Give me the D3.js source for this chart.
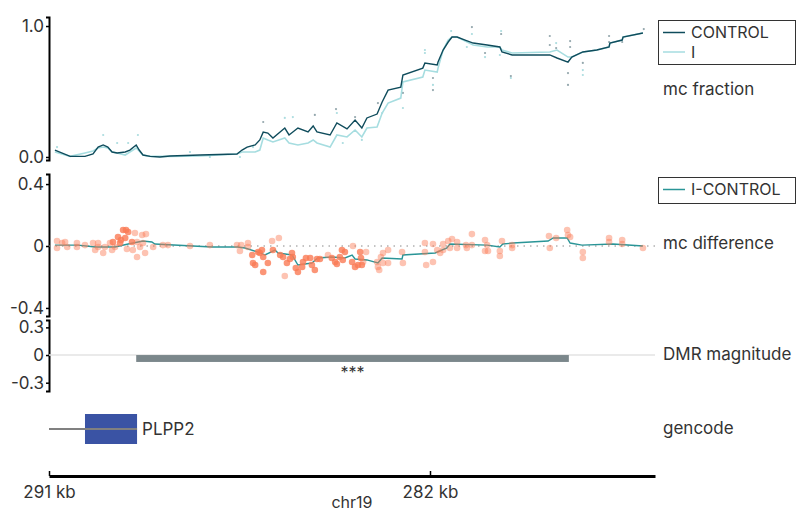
<!DOCTYPE html>
<html><head><meta charset="utf-8">
<script src="https://cdn.jsdelivr.net/npm/d3@7"></script>
<style>
body{margin:0;background:#fff;}
svg text{font-family:Inter,"Noto Sans",sans-serif;fill:#333;}
</style></head>
<body><svg id="c" width="810" height="512"></svg>
<script>
// ---------------- DATA ----------------
// genomic positions in kb (chr19), axis runs 291 kb -> 276.7 kb
const xDomainKb = [291, 276.685];
const xTickKb = [291, 282];
const xTickLabels = ["291 kb", "282 kb"];
const chromName = "chr19";

// mc fraction line vertices
const sitePosKb = [290.86,290.50,290.15,289.96,289.84,289.72,289.61,289.51,289.39,289.20,289.09,288.94,288.87,288.78,288.61,288.38,288.14,287.43,286.56,286.44,286.32,286.13,286.02,285.94,285.83,285.71,285.43,285.33,285.12,284.88,284.76,284.67,284.36,284.20,283.96,283.77,283.61,283.49,283.25,283.13,282.99,282.69,282.64,282.17,282.12,281.83,281.81,281.69,281.57,281.48,281.36,281.17,280.98,280.65,280.35,280.30,280.06,279.17,279.00,278.74,278.65,278.39,278.06,277.77,277.75,277.46,277.44,276.97];
const controlMC = [0.053,0.005,0.005,0.023,0.076,0.092,0.076,0.038,0.031,0.038,0.053,0.092,0.053,0.015,0.005,0.000,0.008,0.015,0.023,0.053,0.076,0.092,0.130,0.190,0.183,0.145,0.221,0.168,0.221,0.191,0.237,0.191,0.168,0.260,0.214,0.282,0.221,0.298,0.328,0.420,0.511,0.534,0.626,0.679,0.718,0.702,0.725,0.817,0.878,0.916,0.916,0.893,0.870,0.855,0.840,0.802,0.779,0.779,0.756,0.725,0.763,0.802,0.817,0.840,0.870,0.893,0.916,0.947];
const iMC = [0.038,0.005,0.031,0.046,0.069,0.076,0.069,0.038,0.031,0.015,0.038,0.069,0.046,0.015,0.005,0.005,0.005,0.008,0.023,0.038,0.038,0.038,0.053,0.145,0.130,0.115,0.145,0.107,0.092,0.107,0.130,0.107,0.076,0.168,0.153,0.206,0.153,0.221,0.229,0.336,0.412,0.450,0.573,0.611,0.664,0.649,0.679,0.817,0.893,0.916,0.916,0.885,0.855,0.840,0.840,0.817,0.794,0.802,0.817,0.763,0.763,0.802,0.817,0.840,0.870,0.893,0.916,0.947];

// individual sample values (small dots)
const samplePosKb = [281.01,281.01,280.32,280.32,280.70,280.70,280.35,280.09,280.09,279.17,279.17,279.02,279.02,278.69,278.69,278.74,278.74,278.39,278.39,278.39,277.77,277.77,277.46,276.95,281.50,281.13,284.22,284.20,283.77,282.12,282.12,281.93,281.93,281.93,282.64,282.64,283.23,283.13,284.06,283.61,285.94,285.43,285.24,284.72,289.72,288.90,289.39,289.13,290.81,287.67,287.20,286.49,286.18];
const sampleVal = [0.992,0.939,0.962,0.939,0.794,0.763,0.779,0.618,0.603,0.924,0.855,0.870,0.832,0.885,0.840,0.641,0.550,0.718,0.664,0.626,0.924,0.878,0.878,0.977,0.962,0.840,0.366,0.336,0.305,0.817,0.794,0.603,0.550,0.511,0.489,0.374,0.412,0.336,0.107,0.130,0.267,0.298,0.305,0.321,0.168,0.168,0.107,0.107,0.076,0.038,0.000,0.000,0.076];
const sampleGroup = ["C","I","I","C","C","I","I","C","I","C","C","I","C","C","C","C","C","C","I","I","C","C","C","C","I","I","C","I","C","I","I","C","I","C","C","I","C","I","I","I","C","I","I","C","I","I","I","I","I","I","I","I","I"];

// mc difference (I - CONTROL) smoothed line
const diffLinePosKb = [290.86,290.31,289.91,289.44,289.13,288.78,288.57,288.50,287.15,286.54,286.37,286.06,285.90,285.66,285.59,285.26,285.12,284.79,284.65,284.32,284.01,283.84,283.77,283.49,283.23,283.13,282.66,282.64,281.88,281.60,281.53,280.65,280.35,280.28,280.04,279.21,279.09,278.76,278.69,278.41,277.68,276.97];
const diffLineVal = [0.006,0.006,-0.006,-0.006,0.013,0.032,0.026,0.013,-0.006,-0.006,-0.013,-0.039,-0.058,-0.026,-0.045,-0.058,-0.123,-0.110,-0.077,-0.071,-0.077,-0.058,-0.084,-0.090,-0.110,-0.077,-0.084,-0.058,-0.045,-0.013,0.013,0.006,-0.006,0.013,0.019,0.032,0.052,0.052,0.019,0.006,0.013,0.000];

// per-site differences
const diffPointPosKb = [290.81,290.81,290.69,290.62,290.57,290.34,290.34,290.15,289.96,289.91,289.84,289.84,289.72,289.68,289.56,289.51,289.49,289.44,289.37,289.32,289.30,289.25,289.18,289.20,289.16,289.13,289.04,289.02,288.97,288.92,288.92,288.85,288.80,288.78,288.73,288.71,288.54,288.31,288.19,287.67,287.20,286.56,286.46,286.49,286.30,286.30,286.20,286.18,286.13,286.06,286.02,285.97,285.94,285.94,285.83,285.73,285.71,285.57,285.54,285.47,285.43,285.38,285.31,285.26,285.24,285.17,285.12,285.02,285.00,284.93,284.83,284.79,284.72,284.67,284.60,284.41,284.32,284.24,284.20,284.13,284.08,284.06,284.01,283.84,283.82,283.77,283.70,283.65,283.63,283.61,283.58,283.51,283.25,283.23,283.20,283.16,283.11,283.11,282.99,282.99,282.66,282.64,282.12,282.12,282.09,281.93,281.93,281.83,281.76,281.69,281.69,281.57,281.53,281.48,281.36,281.36,281.15,281.13,281.01,281.01,280.70,280.70,280.63,280.65,280.35,280.35,280.30,280.06,280.06,279.19,279.17,279.02,278.76,278.74,278.69,278.39,278.39,277.77,277.77,277.46,277.46,276.97];
const diffPointVal = [0.032,-0.013,0.019,0.026,-0.006,0.019,-0.006,0.006,0.019,-0.026,0.019,-0.006,-0.045,-0.006,0.019,-0.026,0.026,-0.006,0.058,0.019,0.039,0.103,0.103,0.052,-0.019,0.090,0.026,-0.026,0.084,0.026,-0.071,-0.006,0.071,0.019,-0.045,0.077,-0.006,0.006,0.006,0.000,0.006,0.006,0.006,-0.032,0.019,-0.006,-0.058,-0.110,-0.123,-0.039,-0.045,-0.026,-0.071,-0.168,-0.110,0.032,-0.026,0.052,-0.058,-0.071,-0.194,-0.110,-0.084,-0.045,-0.071,-0.142,-0.168,-0.135,-0.103,-0.077,-0.077,-0.123,-0.155,-0.084,-0.084,-0.058,-0.077,-0.103,-0.116,-0.071,-0.026,-0.090,-0.039,-0.103,0.000,-0.135,-0.123,-0.039,-0.077,-0.123,-0.103,-0.039,-0.103,-0.135,-0.155,-0.071,-0.045,-0.110,-0.026,-0.110,-0.039,-0.110,0.019,-0.039,-0.123,0.013,-0.103,-0.026,-0.045,-0.026,0.013,0.032,-0.013,0.045,0.026,-0.013,0.006,-0.013,0.077,0.006,0.039,-0.032,-0.032,0.006,-0.032,-0.065,0.032,0.006,-0.013,0.065,-0.013,0.052,0.103,0.071,0.058,-0.039,-0.077,0.052,0.026,0.039,0.013,-0.013];
const diffPointSig = [0,0,0,0,0,0,0,0,0,0,0,0,0,0,0,0,1,0,1,1,1,1,1,1,0,1,1,0,0,0,0,0,0,0,0,0,0,0,0,0,0,0,0,0,0,0,1,1,1,1,1,1,1,1,1,0,1,0,1,1,0,1,1,1,1,1,1,1,1,1,1,1,1,1,1,0,1,1,1,1,1,1,1,1,0,1,1,1,1,1,0,0,0,0,0,0,0,0,0,0,0,0,0,0,0,0,0,0,0,0,0,0,0,0,0,0,0,0,0,0,0,0,0,0,0,0,0,0,0,0,0,0,0,0,0,0,0,0,0,0,0];

// DMR
const dmrStartKb = 288.94, dmrEndKb = 278.72, dmrMagnitude = -0.075, dmrLabel = "***";
// gene
const geneName = "PLPP2";
const geneSpanKb = [291.6, 288.92];
const geneExonKb = [290.15, 288.92];

// y tick values / labels
const fracTicks = [0, 1], fracTickLabels = ["0.0", "1.0"];
const diffTicks = [-0.4, 0, 0.4], diffTickLabels = ["-0.4", "0", "0.4"];
const dmrTicks = [-0.3, 0, 0.3], dmrTickLabels = ["-0.3", "0", "0.3"];
const trackLabels = ["mc fraction", "mc difference", "DMR magnitude", "gencode"];
const legend1 = ["CONTROL", "I"], legend2 = ["I-CONTROL"];

// ---------------- DRAW ----------------
const FS = 17;
const FONT = "Inter,'Noto Sans',sans-serif";
const svg = d3.select("#c");
const C_CTRL = "#0f4c5c", C_I = "#a6dde0", C_DIFF = "#2a9597", C_PT = "#fa7a55";
const x = d3.scaleLinear().domain(xDomainKb).range([49, 655]);
const yF = d3.scaleLinear().domain([-0.023, 1.069]).range([160, 17]);
const yD = d3.scaleLinear().domain([-0.452, 0.465]).range([316, 174]);
const yM = d3.scaleLinear().domain([-0.39, 0.38]).range([391, 320]);

svg.append("defs").append("clipPath").attr("id", "clip")
  .append("rect").attr("x", 49).attr("y", 0).attr("width", 606).attr("height", 512);

function yAxis(scale, ticks, labels) {
  const g = svg.append("g").attr("transform", "translate(49,0)")
    .call(d3.axisLeft(scale).tickValues(ticks).tickFormat((d, i) => labels[i]).tickSizeInner(3).tickSizeOuter(3).tickPadding(2));
  g.select(".domain").attr("stroke", "#000").attr("stroke-width", 2);
  g.selectAll(".tick line").attr("stroke", "#000").attr("stroke-width", 1.5);
  g.selectAll(".tick text").attr("font-size", FS).attr("fill", "#333").style("font-family", FONT);
}
yAxis(yF, fracTicks, fracTickLabels);
yAxis(yD, diffTicks, diffTickLabels);
yAxis(yM, dmrTicks, dmrTickLabels);

const plot = svg.append("g").attr("clip-path", "url(#clip)");

// --- mc fraction ---
plot.append("g").selectAll("circle").data(samplePosKb).join("circle")
  .attr("cx", d => x(d)).attr("cy", (d, i) => yF(sampleVal[i])).attr("r", 1.1)
  .attr("fill", (d, i) => sampleGroup[i] === "C" ? "#6f8890" : "#8fd0d4").attr("opacity", 0.75);
const lineF = vals => d3.line().x((d, i) => x(sitePosKb[i])).y((d, i) => yF(vals[i]))(vals);
plot.append("path").attr("d", lineF(iMC)).attr("fill", "none").attr("stroke", C_I).attr("stroke-width", 1.6);
plot.append("path").attr("d", lineF(controlMC)).attr("fill", "none").attr("stroke", C_CTRL).attr("stroke-width", 1.4);

// --- mc difference ---
plot.append("line").attr("x1", 49).attr("x2", 655).attr("y1", yD(0)).attr("y2", yD(0))
  .attr("stroke", "#888").attr("stroke-width", 1).attr("stroke-dasharray", "1.5,5");
plot.append("path").attr("d", d3.line().x((d, i) => x(diffLinePosKb[i])).y((d, i) => yD(diffLineVal[i]))(diffLineVal))
  .attr("fill", "none").attr("stroke", C_DIFF).attr("stroke-width", 1.4);
plot.append("g").selectAll("circle").data(diffPointPosKb).join("circle")
  .attr("cx", d => x(d)).attr("cy", (d, i) => yD(diffPointVal[i])).attr("r", 3.3)
  .attr("fill", C_PT).attr("opacity", (d, i) => diffPointSig[i] ? 0.8 : 0.45);

// --- DMR ---
plot.append("line").attr("x1", 49).attr("x2", 655).attr("y1", yM(0)).attr("y2", yM(0))
  .attr("stroke", "#e3e3e3").attr("stroke-width", 1.5);
plot.append("rect").attr("x", x(dmrStartKb)).attr("width", x(dmrEndKb) - x(dmrStartKb))
  .attr("y", yM(0)).attr("height", yM(dmrMagnitude) - yM(0)).attr("fill", "#7b878b");
svg.append("text").attr("x", (x(dmrStartKb) + x(dmrEndKb)) / 2).attr("y", yM(dmrMagnitude) + 16)
  .attr("text-anchor", "middle").attr("font-size", 16).text(dmrLabel);

// --- gene ---
const geneY = 429;
plot.append("rect").attr("x", x(geneExonKb[0])).attr("width", x(geneExonKb[1]) - x(geneExonKb[0]))
  .attr("y", geneY - 15).attr("height", 30).attr("fill", "#3a53a4");
plot.append("line").attr("x1", x(geneSpanKb[0])).attr("x2", x(geneSpanKb[1])).attr("y1", geneY).attr("y2", geneY)
  .attr("stroke", "#808080").attr("stroke-width", 2);
svg.append("text").attr("x", x(geneSpanKb[1]) + 5).attr("y", geneY).attr("dy", "0.35em")
  .attr("font-size", FS).text(geneName);

// --- x axis ---
const gx = svg.append("g").attr("transform", "translate(0,476)")
  .call(d3.axisBottom(x).tickValues(xTickKb).tickFormat((d, i) => xTickLabels[i]).tickSizeInner(-5).tickSizeOuter(0).tickPadding(10));
gx.select(".domain").attr("stroke", "#000").attr("stroke-width", 3);
gx.selectAll(".tick line").attr("stroke", "#000").attr("stroke-width", 1.5);
gx.selectAll(".tick text").attr("font-size", FS).attr("fill", "#333").style("font-family", FONT);
svg.append("text").attr("x", 352).attr("y", 503).attr("dy", "0.32em").attr("text-anchor", "middle")
  .attr("font-size", 16).text(chromName);

// --- right labels ---
const labelY = [89, 243, 354, 428];
trackLabels.forEach((t, i) => svg.append("text").attr("x", 663).attr("y", labelY[i]).attr("dy", "0.35em")
  .attr("font-size", FS).text(t));

// --- legends ---
function legend(y0, h, items, colors) {
  const g = svg.append("g");
  g.append("rect").attr("x", 658.5).attr("y", y0 + 0.5).attr("width", 137).attr("height", h)
    .attr("fill", "#fff").attr("stroke", "#333").attr("stroke-width", 1);
  items.forEach((t, i) => {
    const yy = y0 + 12.5 + i * 19.5;
    g.append("line").attr("x1", 663).attr("x2", 685).attr("y1", yy).attr("y2", yy)
      .attr("stroke", colors[i]).attr("stroke-width", 1.5);
    g.append("text").attr("x", 691).attr("y", yy).attr("dy", "0.35em").attr("font-size", 16).text(t);
  });
}
legend(20, 44, legend1, [C_CTRL, C_I]);
legend(177, 26, legend2, [C_DIFF]);
</script></body></html>
